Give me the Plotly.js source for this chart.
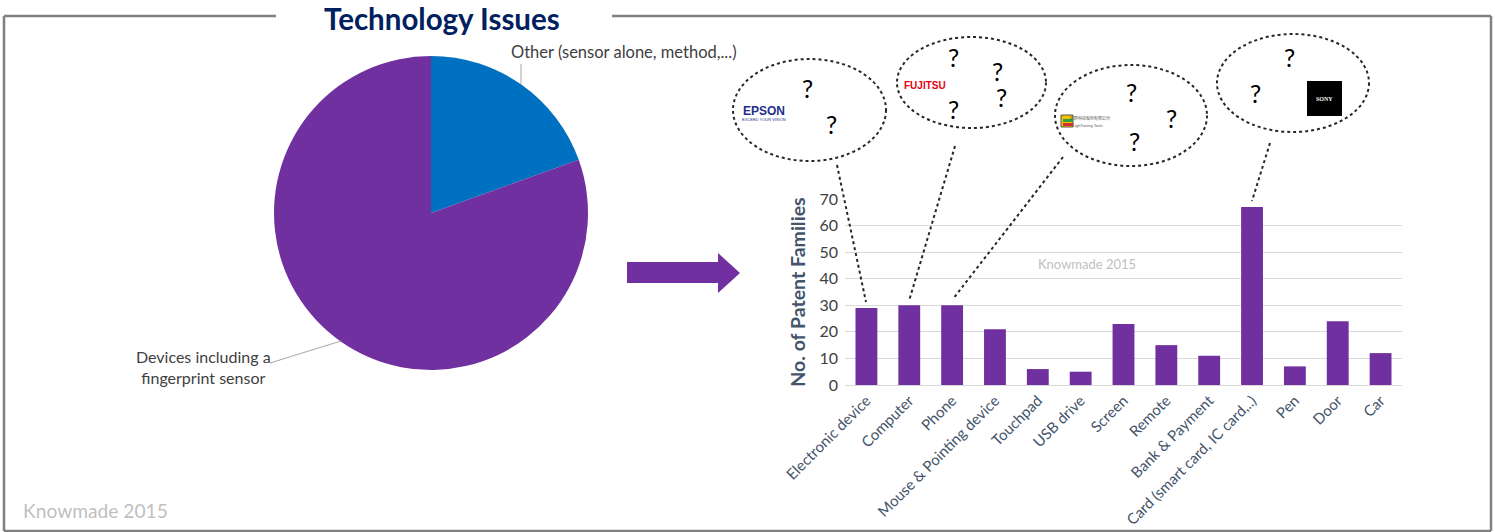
<!DOCTYPE html>
<html>
<head>
<meta charset="utf-8">
<script src="https://cdn.plot.ly/plotly-3.0.1.min.js"></script>
<style>html,body{margin:0;padding:0;background:#fff;}#chart{width:1495px;height:532px;}</style>
</head>
<body>
<div id="chart"></div>
<script>
// ---- Data ----
const pieLabels = ["Other (sensor alone, method,...)", "Devices including a fingerprint sensor"];
const pieValues = [19.5, 80.5];
const pieColors = ["#0070C0", "#7030A0"];

const categories = ["Electronic device", "Computer", "Phone", "Mouse & Pointing device", "Touchpad",
  "USB drive", "Screen", "Remote", "Bank & Payment", "Card (smart card, IC card,..)", "Pen", "Door", "Car"];
const patentFamilies = [29, 30, 30, 21, 6, 5, 23, 15, 11, 67, 7, 24, 12];
const yTicks = [0, 10, 20, 30, 40, 50, 60, 70];

// ---- helpers: pixel -> paper ----
const W = 1495, H = 532;
const px = x => x / W;
const py = y => 1 - y / H;
const FONT = "Lato, 'Open Sans', sans-serif";

const pieTrace = {
  type: "pie",
  labels: pieLabels,
  values: pieValues,
  marker: {colors: pieColors, line: {width: 0}},
  sort: false,
  direction: "clockwise",
  rotation: 0,
  textinfo: "none",
  hoverinfo: "label+percent",
  showlegend: false,
  domain: {x: [px(274), px(588)], y: [py(370), py(56)]}
};

const barTrace = {
  type: "bar",
  x: categories,
  y: patentFamilies,
  marker: {color: "#7030A0", line: {width: 0}},
  xaxis: "x",
  yaxis: "y",
  showlegend: false
};

function line(x0, y0, x1, y1, color, width, dash) {
  return {type: "line", xref: "paper", yref: "paper", x0: px(x0), y0: py(y0), x1: px(x1), y1: py(y1),
    line: {color: color, width: width, dash: dash || "solid"}};
}
function ellipse(x0, y0, x1, y1) {
  return {type: "circle", xref: "paper", yref: "paper", x0: px(x0), y0: py(y1), x1: px(x1), y1: py(y0),
    line: {color: "#262626", width: 2, dash: "dot"}, fillcolor: "rgba(0,0,0,0)"};
}
function pathPx(pts) {
  return "M" + pts.map(p => px(p[0]) + "," + py(p[1])).join(" L") + " Z";
}

const shapes = [
  // frame
  line(4, 16, 276, 16, "#808080", 2.5),
  line(612, 16, 1491, 16, "#808080", 2.5),
  line(4, 16, 4, 531, "#808080", 2.5),
  line(1491, 16, 1491, 531, "#808080", 2.5),
  line(4, 531, 1491, 531, "#808080", 2.5),
  // pie leader lines
  line(521, 64, 521, 84, "#A6A6A6", 1),
  line(270, 363, 341, 341, "#A6A6A6", 1),
  // arrow
  {type: "path", xref: "paper", yref: "paper",
    path: pathPx([[627, 262], [718, 262], [718, 253], [740, 273], [718, 293], [718, 283], [627, 283]]),
    fillcolor: "#7030A0", line: {width: 0}},
  // ellipses
  ellipse(733, 59, 886, 161),
  ellipse(897, 37, 1046, 128),
  ellipse(1055, 65, 1207, 166),
  ellipse(1217, 34, 1369, 132),
  // dotted connectors
  line(837, 165, 866, 302, "#262626", 2, "dot"),
  line(955, 146, 909, 301, "#262626", 2, "dot"),
  line(1063, 157, 953, 299, "#262626", 2, "dot"),
  line(1270, 143, 1252, 201, "#262626", 2, "dot"),
  // Sony logo block
  {type: "rect", xref: "paper", yref: "paper", x0: px(1307), y0: py(116), x1: px(1342), y1: py(81),
    fillcolor: "#000000", line: {width: 0}},
  // LighTuning icon
  {type: "rect", xref: "paper", yref: "paper", x0: px(1061), y0: py(127), x1: px(1073), y1: py(115),
    fillcolor: "#F2C200", line: {color: "#555", width: 1}},
  {type: "rect", xref: "paper", yref: "paper", x0: px(1063), y0: py(122), x1: px(1073), y1: py(119),
    fillcolor: "#2E9E3E", line: {width: 0}},
  {type: "rect", xref: "paper", yref: "paper", x0: px(1063), y0: py(126), x1: px(1073), y1: py(123),
    fillcolor: "#D9302C", line: {width: 0}}
];

function ann(text, x, y, size, color, opts) {
  return Object.assign({xref: "paper", yref: "paper", x: px(x), y: py(y), text: text, showarrow: false,
    xanchor: "center", yanchor: "middle", font: {family: FONT, size: size, color: color}}, opts || {});
}

const q = (x, y) => ann("?", x, y, 25, "#000000");

const annotations = [
  ann("<b>Technology Issues</b>", 442, 18, 29.5, "#002060"),
  ann("Other (sensor alone, method,...)", 509, 52, 16.5, "#404040", {xanchor: "left"}),
  ann("Devices including a<br>fingerprint sensor", 203, 367, 16, "#404040"),
  ann("Knowmade 2015", 21, 510, 19.2, "#BFBFBF", {xanchor: "left"}),
  ann("Knowmade 2015", 1087, 264, 13, "#BFBFBF"),
  // question marks
  q(807, 88), q(831, 124),
  q(953, 57), q(998, 71), q(1001, 97), q(953, 109),
  q(1131, 92), q(1171, 118), q(1134, 141),
  q(1289, 57), q(1255, 93),
  // logos
  ann("<b>EPSON</b>", 764, 111, 12, "#1F2C8F", {font: {family: "'Liberation Sans', Arial, sans-serif", size: 12, color: "#1F2C8F"}}),
  ann("EXCEED YOUR VISION", 764, 119, 4, "#1F2C8F", {font: {family: "'Liberation Sans', Arial, sans-serif", size: 4, color: "#1F2C8F"}}),
  ann("<b>FUJITSU</b>", 925, 86, 10, "#E60012", {font: {family: "'Liberation Sans Narrow', 'Liberation Sans', Arial, sans-serif", size: 10, color: "#E60012"}}),
  ann("祥群科技股份有限公司", 1090, 118, 4, "#555555", {font: {family: "'Noto Sans CJK TC', sans-serif", size: 4, color: "#555555"}}),
  ann("LighTuning Tech.", 1088, 125, 4, "#555555", {font: {family: "'Liberation Sans', Arial, sans-serif", size: 4, color: "#555555"}}),
  ann("<b>SONY</b>", 1324.5, 98.5, 6, "#FFFFFF", {font: {family: "'Liberation Serif', serif", size: 6, color: "#FFFFFF"}})
];

const layout = {
  width: W, height: H,
  margin: {l: 0, r: 0, t: 0, b: 0},
  paper_bgcolor: "#ffffff",
  plot_bgcolor: "#ffffff",
  font: {family: FONT},
  showlegend: false,
  bargap: 0.49,
  xaxis: {
    domain: [px(845), px(1402)],
    anchor: "y",
    tickangle: -45,
    tickfont: {family: FONT, size: 15, color: "#44546A"},
    showgrid: false,
    showline: true,
    linecolor: "#D9D9D9",
    linewidth: 1,
    ticks: "",
    fixedrange: true
  },
  yaxis: {
    domain: [py(385), py(199)],
    anchor: "x",
    range: [0, 70],
    tickvals: yTicks,
    ticktext: yTicks.map(String),
    tickfont: {family: FONT, size: 16, color: "#404040"},
    showgrid: true,
    gridcolor: "#D9D9D9",
    gridwidth: 1,
    zeroline: false,
    showline: false,
    ticks: "",
    ticklabelstandoff: 6,
    title: {text: "<b>No. of Patent Families</b>", font: {family: FONT, size: 19.5, color: "#44546A"}, standoff: 8},
    fixedrange: true
  },
  shapes: shapes,
  annotations: annotations
};

Plotly.newPlot("chart", [pieTrace, barTrace], layout, {displayModeBar: false, staticPlot: true});
</script>
</body>
</html>
